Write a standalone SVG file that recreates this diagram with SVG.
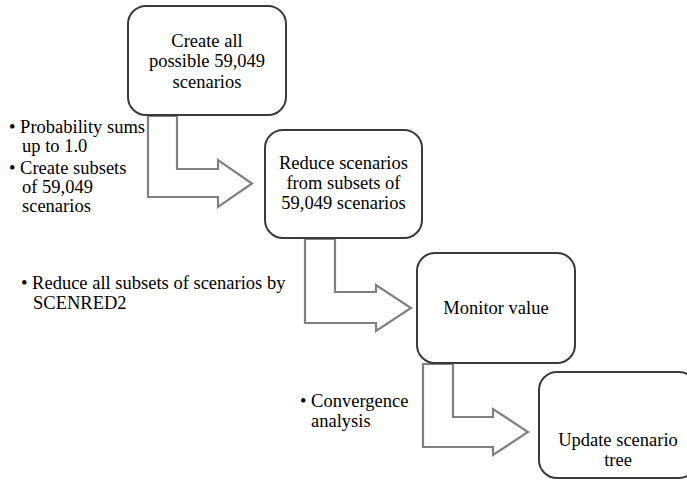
<svg xmlns="http://www.w3.org/2000/svg" width="687" height="480" viewBox="0 0 687 480">
<style>
.box{fill:#fff;stroke:#3a3a3a;stroke-width:2}
.arr{fill:#fff;stroke:#808080;stroke-width:2.2;stroke-linejoin:miter}
text{font-family:"Liberation Serif","Times New Roman",serif;font-size:18.5px;fill:#000}
.c{text-anchor:middle}
</style>
<rect width="687" height="480" fill="#fff"/>
<g id="connectors">
<polygon class="arr" points="148,116 148,197 218,197 218,207 252,183.5 218,160 218,169 177,169 177,116"/>
<polygon class="arr" points="305,239 305,323 376,323 376,331 411,308 376,285 376,292 335,292 335,239"/>
<polygon class="arr" points="423,364 423,447 493,447 493,455 528,432 493,409 493,417 453,417 453,364"/>
</g>
<g id="node1">
<rect class="box" x="128" y="6" width="158" height="109" rx="18"/>
<text class="c" x="207" y="47">Create all</text>
<text class="c" x="207" y="67">possible 59,049</text>
<text class="c" x="207" y="88">scenarios</text>
</g>
<g id="node2">
<rect class="box" x="265" y="130" width="157" height="108" rx="18"/>
<text class="c" x="343.5" y="169">Reduce scenarios</text>
<text class="c" x="343.5" y="189">from subsets of</text>
<text class="c" x="343.5" y="209">59,049 scenarios</text>
</g>
<g id="node3">
<rect class="box" x="417" y="253" width="158" height="110" rx="18"/>
<text class="c" x="496" y="314">Monitor value</text>
</g>
<g id="node4">
<rect class="box" x="539" y="372" width="158" height="106" rx="18"/>
<text class="c" x="618" y="446">Update scenario</text>
<text class="c" x="618" y="466">tree</text>
</g>
<g id="notes">
<text x="9" y="133">• Probability sums</text>
<text x="22" y="152">up to 1.0</text>
<text x="9" y="174">• Create  subsets</text>
<text x="22" y="193">of 59,049</text>
<text x="22" y="212">scenarios</text>
<text x="21" y="289">• Reduce all subsets of scenarios by</text>
<text x="33" y="309">SCENRED2</text>
<text x="300" y="407">• Convergence</text>
<text x="311" y="427">analysis</text>
</g>
</svg>
